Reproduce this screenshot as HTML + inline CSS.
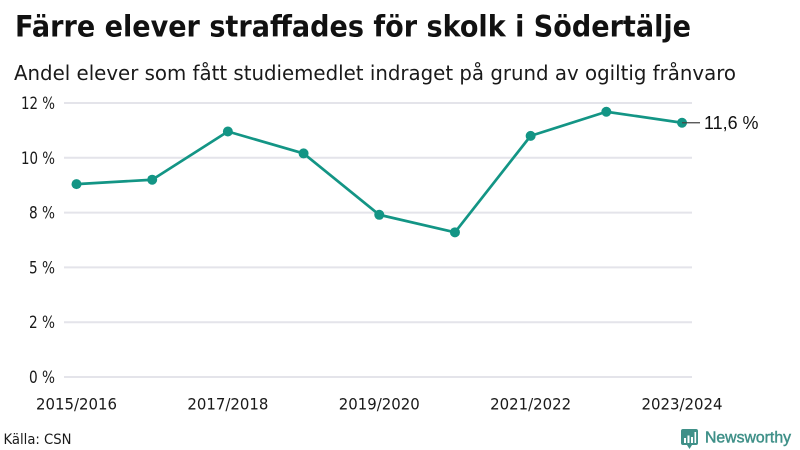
<!DOCTYPE html>
<html lang="sv">
<head>
<meta charset="utf-8">
<title>Färre elever straffades för skolk i Södertälje</title>
<style>
html,body{margin:0;padding:0;background:#fff;width:800px;height:450px;overflow:hidden}
svg{display:block}
text{font-family:"DejaVu Sans","Liberation Sans",sans-serif;fill:#1a1a1a}
</style>
</head>
<body>
<svg id="chart" width="800" height="450" viewBox="0 0 800 450" xmlns="http://www.w3.org/2000/svg">
  <rect width="800" height="450" fill="#fff"/>
  <text x="15" y="36.5" font-size="29.5" font-weight="700" textLength="676" lengthAdjust="spacingAndGlyphs" style="fill:#111">Färre elever straffades för skolk i Södertälje</text>
  <text x="14" y="80" font-size="20.5" textLength="722" lengthAdjust="spacingAndGlyphs">Andel elever som fått studiemedlet indraget på grund av ogiltig frånvaro</text>
  <g id="grid"></g>
  <g id="yaxis"></g>
  <g id="xaxis"></g>
  <g id="series"></g>
  <g id="annotation"></g>
  <text x="3.5" y="444" font-size="14.5" textLength="68" lengthAdjust="spacingAndGlyphs">Källa: CSN</text>
  <g>
    <path d="M683 429h13a2 2 0 0 1 2 2v12a2 2 0 0 1-2 2h-4l-2.500 4-2.500-4h-4a2 2 0 0 1-2-2v-12a2 2 0 0 1 2-2z" fill="#3f9088"/>
    <rect x="684" y="438" width="2" height="5" fill="#fff"/>
    <rect x="687.500" y="435.500" width="2" height="7.500" fill="#fff"/>
    <rect x="691" y="437" width="2" height="6" fill="#fff"/>
    <rect x="694.500" y="432" width="1.600" height="11" fill="#fff"/>
    <text x="705" y="442.500" font-size="16" textLength="86" lengthAdjust="spacingAndGlyphs" stroke="#3f9088" stroke-width="0.45" style="font-family:'Liberation Sans',sans-serif;fill:#3f9088">Newsworthy</text>
  </g>
</svg>
<script>
const categories = ["2015/2016","2016/2017","2017/2018","2018/2019","2019/2020","2020/2021","2021/2022","2022/2023","2023/2024"];
const seriesValues = [8.8, 9.0, 11.2, 10.2, 7.4, 6.6, 11.0, 12.1, 11.6];
const yTicks = [0, 2.5, 5, 7.5, 10, 12.5];
const yTickLabels = ["0 %","2 %","5 %","8 %","10 %","12 %"];
const xTickLabels = ["2015/2016","","2017/2018","","2019/2020","","2021/2022","","2023/2024"];
const lastValueLabel = "11,6 %";

const NS = "http://www.w3.org/2000/svg";
const yZero = 377, yPerUnit = 21.92, xStart = 76.5, xStep = 75.69;
const xScale = i => xStart + i * xStep;
const yScale = v => yZero - v * yPerUnit;
function mk(parent, tag, attrs, txt) {
  const el = document.createElementNS(NS, tag);
  for (const k in attrs) el.setAttribute(k, attrs[k]);
  if (txt !== undefined) el.textContent = txt;
  document.getElementById(parent).appendChild(el);
  return el;
}

yTicks.forEach((t, i) => {
  const y = yScale(t);
  const g = mk("grid", "line", {x1: 64, x2: 692, y1: y, y2: y, stroke: "#e4e4ea", "stroke-width": 2});
  
  
  const w = 8 * yTickLabels[i].length + 2;
  const l = mk("yaxis", "text", {x: 55 - w, y: y + 6, "font-size": 16.5, textLength: w, lengthAdjust: "spacingAndGlyphs"}, yTickLabels[i]);
  
  
});

xTickLabels.forEach((lab, i) => {
  if (!lab) return;
  const l = mk("xaxis", "text", {x: xScale(i), y: 409.5, "font-size": 16, "text-anchor": "middle", textLength: 81, lengthAdjust: "spacingAndGlyphs"}, lab);
  
  
});

const line = mk("series", "polyline", {
  points: seriesValues.map((v, i) => xScale(i) + "," + yScale(v)).join(" "),
  fill: "none", stroke: "#139585", "stroke-width": 2.7, "stroke-linejoin": "round"
});



seriesValues.forEach((v, i) => {
  const p = mk("series", "circle", {cx: xScale(i), cy: yScale(v), r: 5, fill: "#139585"});
  
  
});

const lastI = seriesValues.length - 1;
const lastY = yScale(seriesValues[lastI]);
const leader = mk("annotation", "line", {x1: xScale(lastI), x2: 700, y1: lastY, y2: lastY, stroke: "#444", "stroke-width": 1.2});


const ann = mk("annotation", "text", {x: 704, y: lastY + 6.5, "font-size": 18, textLength: 54.5, lengthAdjust: "spacingAndGlyphs", style: "font-family:'Liberation Sans',sans-serif;fill:#111"}, lastValueLabel);


</script>
</body>
</html>
